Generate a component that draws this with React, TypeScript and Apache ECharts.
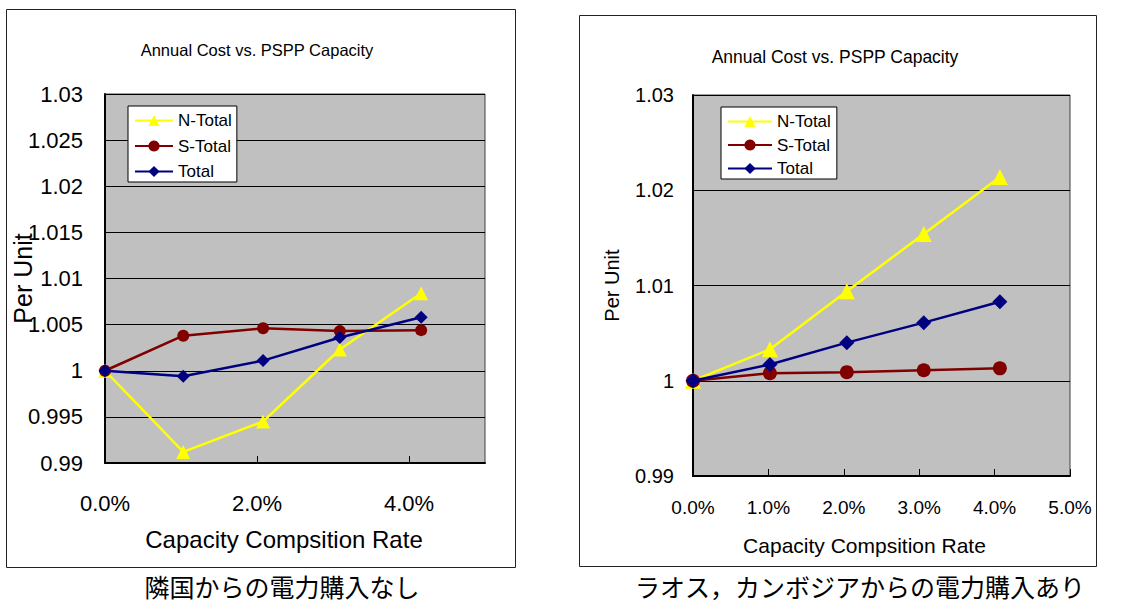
import React, { useEffect, useRef } from 'react';
import * as echarts from 'echarts';

const chartTitle = 'Annual Cost vs. PSPP Capacity';
const xAxisName = 'Capacity Compsition Rate';
const yAxisName = 'Per Unit';
const seriesNames = ['N-Total', 'S-Total', 'Total'];
const captions = ['隣国からの電力購入なし', 'ラオス，カンボジアからの電力購入あり'];

// Left chart (no power purchase from neighbours), x in percent
const xLeft = [0, 1.03, 2.08, 3.09, 4.16];
const nTotalLeft = [1.0, 0.9912, 0.9945, 1.0023, 1.0084];
const sTotalLeft = [1.0, 1.0038, 1.0046, 1.0043, 1.0044];
const totalLeft = [1.0, 0.9994, 1.0011, 1.0036, 1.0058];

// Right chart (with purchase from Laos, Cambodia)
const xRight = [0, 1.02, 2.04, 3.06, 4.07];
const nTotalRight = [1.0, 1.0033, 1.0094, 1.0154, 1.0214];
const sTotalRight = [1.0, 1.0008, 1.0009, 1.0011, 1.0013];
const totalRight = [1.0, 1.0017, 1.004, 1.0061, 1.0083];

const colors = ['#FFFF00', '#800000', '#000080'];
const symbols = ['triangle', 'circle', 'diamond'];

const LABEL_FONT = '"Liberation Sans", Arial, sans-serif';
const TITLE_FONT = '"Liberation Sans", Arial, sans-serif';
const CJK_FONT = '"Noto Sans CJK JP", sans-serif';

const zip = (xs: number[], ys: number[]) => xs.map((x, i) => [x, ys[i]]);

export default function App() {
  const ref = useRef<HTMLDivElement>(null);
  useEffect(() => {
    if (!ref.current) return;
    const chart = echarts.init(ref.current, null, { renderer: 'svg' });

    const leftData = [nTotalLeft, sTotalLeft, totalLeft];
    const rightData = [nTotalRight, sTotalRight, totalRight];
    const leftSizes = [14, 12, 13];
    const rightSizes = [16, 14, 15];

    const mkSeries = (data: number[][], xs: number[], idx: number, sizes: number[]) =>
      data.map((ys, i) => ({
        name: seriesNames[i],
        type: 'line',
        xAxisIndex: idx,
        yAxisIndex: idx,
        data: zip(xs, ys),
        symbol: symbols[i],
        symbolSize: sizes[i],
        lineStyle: { color: colors[i], width: 2.5 },
        itemStyle: { color: colors[i] },
        z: 2 + i,
      }));

    const pctFmt = (v: number) => v.toFixed(1) + '%';
    const yFmt = (v: number) => String(parseFloat(v.toFixed(3)));

    const xAxisCommon = () => ({
      type: 'value',
      min: 0,
      max: 5,
      nameLocation: 'middle',
      nameMoveOverlap: false,
      splitLine: { show: false },
      axisLine: { show: true, lineStyle: { color: '#000', width: 2 } },
      axisTick: { show: true, inside: true, length: 7, lineStyle: { color: '#000' } },
    });

    const yAxisCommon = () => ({
      type: 'value',
      min: 0.99,
      max: 1.03,
      name: yAxisName,
      nameLocation: 'middle',
      nameMoveOverlap: false,
      splitLine: { show: true, lineStyle: { color: '#000', width: 1 } },
      axisLine: { show: true, lineStyle: { color: '#000', width: 2 } },
      axisTick: { show: true, inside: true, length: 7, lineStyle: { color: '#000' } },
    });

    const legendCommon = (fontSize: number) => ({
      orient: 'vertical',
      data: seriesNames,
      backgroundColor: '#fff',
      borderColor: '#000',
      borderWidth: 1,
      borderRadius: 0,
      itemHeight: 14,
      textStyle: { color: '#000', fontSize, fontFamily: TITLE_FONT },
      selectedMode: false,
    });

    const titleText = (x: number, y: number, size: number) => ({
      type: 'text', x, y,
      style: { text: chartTitle, align: 'center', verticalAlign: 'middle', textAlign: 'center', textVerticalAlign: 'middle', fontSize: size, fontFamily: TITLE_FONT, fill: '#000' },
    });
    const captionText = (x: number, y: number, text: string) => ({
      type: 'text', x, y,
      style: { text, align: 'center', verticalAlign: 'middle', textAlign: 'center', textVerticalAlign: 'middle', fontSize: 25, lineHeight: 25, fontFamily: CJK_FONT, fill: '#000' },
    });

    const option: any = {
      animation: false,
      backgroundColor: '#fff',
      grid: [
        { left: 105, top: 94, width: 380, height: 369, show: true, backgroundColor: '#C0C0C0', borderColor: '#404040', borderWidth: 1, containLabel: false },
        { left: 693, top: 95, width: 377, height: 381, show: true, backgroundColor: '#C0C0C0', borderColor: '#404040', borderWidth: 1, containLabel: false },
      ],
      xAxis: [
        {
          ...xAxisCommon(),
          gridIndex: 0,
          interval: 2,
          name: xAxisName,
          nameGap: 64,
          nameTextStyle: { color: '#000', fontSize: 24, fontFamily: LABEL_FONT, padding: [0, 22, 0, 0] },
          axisLabel: { formatter: pctFmt, color: '#000', fontSize: 22, fontFamily: LABEL_FONT, margin: 29, showMaxLabel: false },
        },
        {
          ...xAxisCommon(),
          gridIndex: 1,
          interval: 1,
          name: xAxisName,
          nameGap: 59,
          nameTextStyle: { color: '#000', fontSize: 21, fontFamily: LABEL_FONT, padding: [0, 34, 0, 0] },
          axisLabel: { formatter: pctFmt, color: '#000', fontSize: 19, fontFamily: LABEL_FONT, margin: 22 },
        },
      ],
      yAxis: [
        {
          ...yAxisCommon(),
          gridIndex: 0,
          interval: 0.005,
          nameGap: 70,
          nameTextStyle: { color: '#000', fontSize: 25, fontFamily: LABEL_FONT },
          axisLabel: { formatter: yFmt, color: '#000', fontSize: 22, fontFamily: LABEL_FONT, margin: 22 },
        },
        {
          ...yAxisCommon(),
          gridIndex: 1,
          interval: 0.01,
          nameGap: 71,
          nameTextStyle: { color: '#000', fontSize: 20, fontFamily: LABEL_FONT },
          axisLabel: { formatter: yFmt, color: '#000', fontSize: 20, fontFamily: LABEL_FONT, margin: 19 },
        },
      ],
      legend: [
        { ...legendCommon(17), left: 128, top: 106, itemWidth: 38, itemGap: 8.5, padding: [6, 5, 2, 6] },
        { ...legendCommon(17), left: 721, top: 107, itemWidth: 44, itemGap: 6.5, padding: [6, 6, 2, 6] },
      ],
      graphic: [
        { type: 'rect', shape: { x: 6.5, y: 9.5, width: 509, height: 558 }, style: { fill: 'none', stroke: '#222', lineWidth: 1 }, z: 0 },
        { type: 'rect', shape: { x: 579.5, y: 15.5, width: 517, height: 551 }, style: { fill: 'none', stroke: '#222', lineWidth: 1 }, z: 0 },
        titleText(257, 50, 16.5),
        titleText(835, 57, 17.5),
        captionText(282, 586, captions[0]),
        captionText(860, 586, captions[1]),
      ],
      series: [
        ...mkSeries(leftData, xLeft, 0, leftSizes),
        ...mkSeries(rightData, xRight, 1, rightSizes),
      ],
    };

    chart.setOption(option);
    return () => chart.dispose();
  }, []);

  return <div ref={ref} style={{ position: 'fixed', left: 0, top: 0, width: 1134, height: 605 }} />;
}
